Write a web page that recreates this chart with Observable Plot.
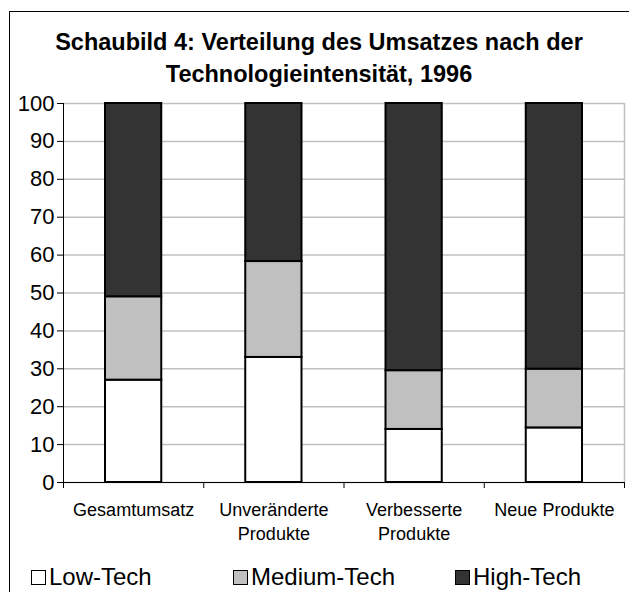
<!DOCTYPE html>
<html>
<head>
<meta charset="utf-8">
<script src="https://cdn.jsdelivr.net/npm/d3@7"></script>
<script src="https://cdn.jsdelivr.net/npm/@observablehq/plot@0.6"></script>
<style>
  html, body { margin: 0; padding: 0; background: #fff; }
  body { font-family: "Liberation Sans", Arial, sans-serif; }
  #wrap { position: relative; width: 629px; height: 592px; overflow: hidden; background: #fff; }
  #frame { position: absolute; left: 9px; top: 11px; width: 700px; height: 700px; border-left: 1.5px solid #000; border-top: 1.5px solid #000; box-sizing: border-box; }
  #title { position: absolute; left: 9px; width: 620px; top: 26px; text-align: center; font-weight: bold; font-size: 23.5px; line-height: 32px; color: #000; }
  #chart { position: absolute; left: 0; top: 0; }
  #legend { position: absolute; left: 0; width: 629px; top: 562px; height: 30px; font-size: 24px; line-height: 30px; color: #000; }
  .item { position: absolute; top: 0; display: flex; align-items: center; }
  .sw { width: 15px; height: 15px; border: 1.5px solid #000; box-sizing: border-box; margin-right: 3px; }
</style>
</head>
<body>
<div id="wrap">
  <div id="frame"></div>
  <div id="title">Schaubild 4: Verteilung des Umsatzes nach der<br>Technologieintensität, 1996</div>
  <div id="chart"></div>
  <div id="legend"></div>
</div>
<script>
const categories = ["Gesamtumsatz", "Unveränderte\nProdukte", "Verbesserte\nProdukte", "Neue Produkte"];
const series = ["Low-Tech", "Medium-Tech", "High-Tech"];
const lowTech = [27, 33, 14, 14.4];
const mediumTech = [22, 25.3, 15.5, 15.5];
const highTech = [51, 41.7, 70.5, 70.1];
const yTicks = [0, 10, 20, 30, 40, 50, 60, 70, 80, 90, 100];
const colors = ["#ffffff", "#c0c0c0", "#333333"];

const seriesValues = [lowTech, mediumTech, highTech];
const rows = [];
categories.forEach((c, i) => {
  series.forEach((s, k) => {
    rows.push({i, i2: i + 1, category: c, series: s, value: seriesValues[k][i]});
  });
});
const catIdx = categories.map((c, i) => i);
const boundaries = [...catIdx, categories.length];

const chart = Plot.plot({
  width: 629,
  height: 530,
  marginTop: 103,
  marginBottom: 48,
  marginLeft: 63,
  marginRight: 5,
  style: {fontFamily: "'Liberation Sans', Arial, sans-serif", background: "transparent", overflow: "visible"},
  x: {domain: [0, categories.length], axis: null},
  y: {domain: [0, 100], axis: null},
  color: {domain: series, range: colors},
  marks: [
    Plot.gridY(yTicks, {stroke: "#c0c0c0", strokeOpacity: 1, strokeWidth: 1.5}),
    Plot.ruleX([categories.length], {stroke: "#c0c0c0", strokeWidth: 1.5}),
    Plot.rectY(rows, Plot.stackY({
      x1: "i", x2: "i2", y: "value", fill: "series",
      stroke: "#000", strokeWidth: 2, insetLeft: 42, insetRight: 42
    })),
    Plot.ruleX([0], {stroke: "#000", strokeWidth: 1}),
    Plot.ruleY([0], {stroke: "#000", strokeWidth: 1}),
    Plot.axisY(yTicks, {
      label: null, tickSize: 6, tickPadding: 3, fontSize: 22, stroke: "#000", fill: "#000", tickFormat: d => d
    }),
    Plot.axisX(boundaries, {
      label: null, tickSize: 6, tickFormat: () => "", stroke: "#000"
    }),
    Plot.axisX(catIdx.map(i => i + 0.5), {
      label: null, tickSize: 0, tickPadding: 16, fontSize: 18, fill: "#000", lineHeight: 1.36,
      tickFormat: d => categories[Math.floor(d)]
    })
  ]
});
document.getElementById("chart").appendChild(chart);

const legend = document.getElementById("legend");
const legendLeft = [31, 233, 455];
series.forEach((s, k) => {
  const it = document.createElement("div");
  it.className = "item";
  it.style.left = legendLeft[k] + "px";
  const sw = document.createElement("div");
  sw.className = "sw";
  sw.style.background = colors[k];
  const t = document.createElement("span");
  t.textContent = s;
  it.appendChild(sw);
  it.appendChild(t);
  legend.appendChild(it);
});
</script>
</body>
</html>
